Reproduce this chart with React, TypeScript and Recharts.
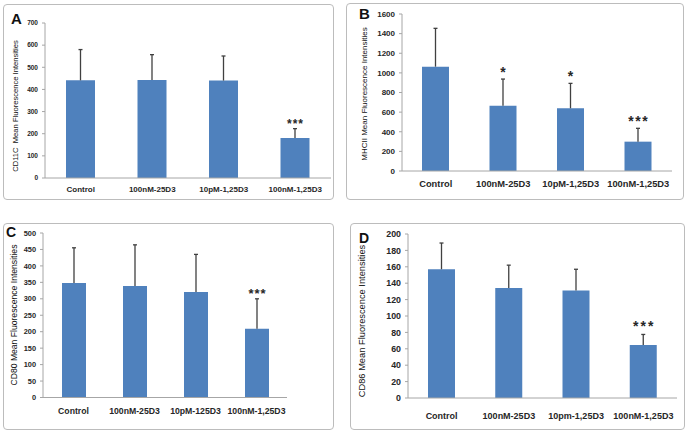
import React from 'react';
import { BarChart, Bar, XAxis, YAxis, LabelList } from 'recharts';

const FONT = '"Liberation Sans", Arial, sans-serif';
const BAR_COLOR = '#4f81bd';
const TEXT = '#262626';
const AXIS = '#a6a6a6';
const ERR = '#404040';

// Panel A
const categoriesA = ['Control', '100nM-25D3', '10pM-1,25D3', '100nM-1,25D3'];
const meansA = [441, 443, 440, 181];
const errorsA = [139, 114, 111, 42];
const starsA = ['', '', '', '***'];
const ticksA = [0, 100, 200, 300, 400, 500, 600, 700];

// Panel B
const categoriesB = ['Control', '100nM-25D3', '10pM-1,25D3', '100nM-1,25D3'];
const meansB = [1063, 666, 639, 299];
const errorsB = [391, 271, 254, 136];
const starsB = ['', '*', '*', '***'];
const ticksB = [0, 200, 400, 600, 800, 1000, 1200, 1400, 1600];

// Panel C
const categoriesC = ['Control', '100nM-25D3', '10pM-125D3', '100nM-1,25D3'];
const meansC = [348, 339, 321, 209];
const errorsC = [107, 125, 114, 91];
const starsC = ['', '', '', '***'];
const ticksC = [0, 50, 100, 150, 200, 250, 300, 350, 400, 450, 500];

// Panel D
const categoriesD = ['Control', '100nM-25D3', '10pm-1,25D3', '100nM-1,25D3'];
const meansD = [157, 134, 131, 64.5];
const errorsD = [32, 28, 26, 13];
const starsD = ['', '', '', '***'];
const ticksD = [0, 20, 40, 60, 80, 100, 120, 140, 160, 180, 200];

type Cfg = {
  letter: string;
  title: string;
  categories: string[];
  means: number[];
  errors: number[];
  stars: string[];
  ticks: number[];
  box: { left: number; top: number; width: number; height: number };
  mTop: number;
  mRight: number;
  yWidth: number;
  xHeight: number;
  barSize: number;
  tickFont: number;
  catFont: number;
  catMargin: number;
  title_: { x: number; y: number; font: number };
  letterPos: { x: number; y: number; font: number };
  star: { font: number; spacing: number; gap: number };
};

const panels: Cfg[] = [
  {
    letter: 'A',
    title: 'CD11C  Mean Fluorescence Intensities',
    categories: categoriesA, means: meansA, errors: errorsA, stars: starsA, ticks: ticksA,
    box: { left: 3, top: 4, width: 331, height: 196 },
    mTop: 19, mRight: 3, yWidth: 42, xHeight: 22, barSize: 29,
    tickFont: 6.5, catFont: 8, catMargin: 8,
    title_: { x: 16, y: 106, font: 7.6 },
    letterPos: { x: 11, y: 11, font: 15 },
    star: { font: 12, spacing: 1, gap: 8 },
  },
  {
    letter: 'B',
    title: 'MHCII Mean Fluorescence Intensities',
    categories: categoriesB, means: meansB, errors: errorsB, stars: starsB, ticks: ticksB,
    box: { left: 346, top: 3, width: 338, height: 197 },
    mTop: 11, mRight: 12, yWidth: 56, xHeight: 29, barSize: 27,
    tickFont: 8, catFont: 9.3, catMargin: 9,
    title_: { x: 365, y: 94, font: 8 },
    letterPos: { x: 359, y: 6, font: 15 },
    star: { font: 14, spacing: 1.5, gap: 10 },
  },
  {
    letter: 'C',
    title: 'CD80 Mean Fluorescence Intensities',
    categories: categoriesC, means: meansC, errors: errorsC, stars: starsC, ticks: ticksC,
    box: { left: 3, top: 223, width: 331, height: 207 },
    mTop: 10, mRight: 47, yWidth: 40, xHeight: 32.5, barSize: 24,
    tickFont: 7.4, catFont: 8.7, catMargin: 10.5,
    title_: { x: 14, y: 315, font: 8.6 },
    letterPos: { x: 6, y: 225, font: 14 },
    star: { font: 13, spacing: 1, gap: 8 },
  },
  {
    letter: 'D',
    title: 'CD86 Mean Fluorescence Intensities',
    categories: categoriesD, means: meansD, errors: errorsD, stars: starsD, ticks: ticksD,
    box: { left: 350, top: 223, width: 335, height: 207 },
    mTop: 11, mRight: 8, yWidth: 58, xHeight: 32, barSize: 27,
    tickFont: 8.8, catFont: 9, catMargin: 15,
    title_: { x: 363, y: 321, font: 9.3 },
    letterPos: { x: 359, y: 231, font: 14 },
    star: { font: 14, spacing: 2, gap: 12 },
  },
];

const ErrShape = (p: any) => {
  const { x, y, width, height } = p;
  if (x == null || y == null) return null;
  const cx = x + width / 2;
  return (
    <g>
      <line x1={cx} x2={cx} y1={y} y2={y + height} stroke={ERR} strokeWidth={1.3} />
      <line x1={cx - 2} x2={cx + 2} y1={y} y2={y} stroke={ERR} strokeWidth={1.3} />
    </g>
  );
};

function makeStarLabel(cfg: Cfg) {
  return (props: any) => {
    const vb = props.viewBox || props;
    const x = vb.x ?? props.x;
    const y = vb.y ?? props.y;
    const w = vb.width ?? props.width;
    const value = props.value;
    if (!value) return null;
    const { font, spacing, gap } = cfg.star;
    return (
      <text
        x={x + w / 2 + spacing / 2}
        y={y - gap + font * 0.58}
        textAnchor="middle"
        fontFamily={FONT}
        fontSize={font}
        fontWeight="bold"
        letterSpacing={spacing}
        fill={TEXT}
      >
        {value}
      </text>
    );
  };
}

function Panel({ cfg }: { cfg: Cfg }) {
  const data = cfg.categories.map((c, i) => ({
    name: c,
    mean: cfg.means[i],
    err: cfg.errors[i],
    stars: cfg.stars[i],
  }));
  const max = cfg.ticks[cfg.ticks.length - 1];
  const { box } = cfg;
  return (
    <div
      style={{
        position: 'absolute',
        left: box.left,
        top: box.top,
        width: box.width,
        height: box.height,
        border: '1px solid #bcbcbc',
        borderRadius: 4,
        boxSizing: 'border-box',
      }}
    >
      <div style={{ position: 'absolute', left: -1, top: -1 }}>
        <BarChart
          width={box.width}
          height={box.height}
          data={data}
          barSize={cfg.barSize}
          margin={{ top: cfg.mTop, right: cfg.mRight, left: 0, bottom: 0 }}
        >
          <XAxis
            dataKey="name"
            height={cfg.xHeight}
            interval={0}
            axisLine={{ stroke: AXIS }}
            tickLine={false}
            tickSize={0}
            tickMargin={cfg.catMargin}
            tick={{ fontSize: cfg.catFont, fontWeight: 'bold', fill: TEXT, fontFamily: FONT }}
          />
          <YAxis
            type="number"
            width={cfg.yWidth}
            domain={[0, max]}
            ticks={cfg.ticks}
            interval={0}
            axisLine={{ stroke: AXIS }}
            tickLine={{ stroke: AXIS }}
            tickSize={3}
            tickMargin={4}
            tick={{ fontSize: cfg.tickFont, fontWeight: 'bold', fill: TEXT, fontFamily: FONT }}
          />
          <Bar dataKey="mean" stackId="s" fill={BAR_COLOR} isAnimationActive={false} />
          <Bar dataKey="err" stackId="s" shape={ErrShape} isAnimationActive={false}>
            <LabelList dataKey="stars" content={makeStarLabel(cfg)} />
          </Bar>
        </BarChart>
      </div>
    </div>
  );
}

export default function App() {
  return (
    <div
      style={{
        position: 'absolute',
        left: 0,
        top: 0,
        width: 686,
        height: 433,
        background: '#ffffff',
        fontFamily: FONT,
        overflow: 'hidden',
      }}
    >
      {panels.map((cfg) => (
        <Panel key={cfg.letter} cfg={cfg} />
      ))}
      {panels.map((cfg) => (
        <div
          key={'t' + cfg.letter}
          style={{
            position: 'absolute',
            left: cfg.title_.x,
            top: cfg.title_.y,
            transform: 'translate(-50%, -50%) rotate(-90deg)',
            whiteSpace: 'pre',
            fontSize: cfg.title_.font,
            color: '#111',
            lineHeight: 1,
          }}
        >
          {cfg.title}
        </div>
      ))}
      {panels.map((cfg) => (
        <div
          key={'l' + cfg.letter}
          style={{
            position: 'absolute',
            left: cfg.letterPos.x,
            top: cfg.letterPos.y,
            fontSize: cfg.letterPos.font,
            fontWeight: 'bold',
            lineHeight: 1,
            color: '#111',
          }}
        >
          {cfg.letter}
        </div>
      ))}
    </div>
  );
}
